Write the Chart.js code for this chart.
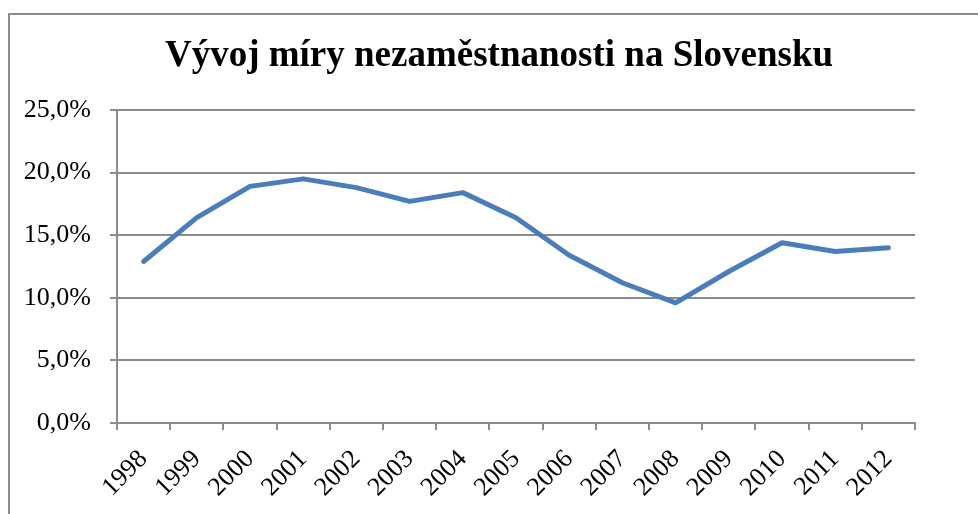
<!DOCTYPE html>
<html>
<head>
<meta charset="utf-8">
<script src="https://cdn.jsdelivr.net/npm/chart.js@4"></script>
<style>
  html, body { margin: 0; padding: 0; background: #fff; }
  #wrap { position: relative; width: 978px; height: 514px; overflow: hidden; }
  #frame { position: absolute; left: 8px; top: 13px; width: 1100px; height: 700px;
           border-left: 2px solid #8c8c8c; border-top: 2px solid #8c8c8c; box-sizing: border-box; }
  canvas { position: absolute; left: 0; top: 0; }
</style>
</head>
<body>
<div id="wrap">
  <div id="frame"></div>
  <canvas id="c" width="978" height="514"></canvas>
</div>
<script>
const titleText = 'Vývoj míry nezaměstnanosti na Slovensku';
const years = ['1998','1999','2000','2001','2002','2003','2004','2005','2006','2007','2008','2009','2010','2011','2012'];
const unemployment = [12.9, 16.4, 18.9, 19.5, 18.8, 17.7, 18.4, 16.4, 13.4, 11.2, 9.6, 12.1, 14.4, 13.7, 14.0];
const yMin = 0, yMax = 25, yStep = 5;

const gridColor = '#8c8c8c';

const titlePlugin = {
  id: 'centeredTitle',
  afterDraw(chart) {
    const ctx = chart.ctx;
    ctx.save();
    ctx.font = 'bold 37px "Liberation Serif"';
    ctx.fillStyle = '#000';
    ctx.textBaseline = 'alphabetic';
    ctx.textAlign = 'center';
    ctx.fillText(titleText, 499, 66);
    ctx.restore();
  }
};

new Chart(document.getElementById('c'), {
  type: 'line',
  data: {
    labels: years,
    datasets: [{
      data: unemployment,
      borderColor: '#4a7ebb',
      borderWidth: 5,
      borderCapStyle: 'round',
      borderJoinStyle: 'round',
      pointRadius: 0,
      tension: 0,
      fill: false
    }]
  },
  plugins: [titlePlugin],
  options: {
    responsive: false,
    animation: false,
    layout: { padding: { left: 0, right: 63, top: 110, bottom: 0 } },
    plugins: {
      legend: { display: false },
      tooltip: { enabled: false },
      title: { display: false }
    },
    scales: {
      x: {
        offset: true,
        grid: { display: true, drawOnChartArea: false, drawTicks: true, tickLength: 7, offset: true, color: gridColor, lineWidth: 2 },
        border: { display: true, color: gridColor, width: 2 },
        ticks: {
          color: '#000',
          font: { family: 'Liberation Serif', size: 26 },
          minRotation: 45, maxRotation: 45, autoSkip: false, padding: 14
        },
        afterFit: (s) => { s.height = 91; }
      },
      y: {
        min: yMin, max: yMax,
        ticks: {
          stepSize: yStep,
          color: '#000',
          font: { family: 'Liberation Serif', size: 26 },
          padding: 19,
          callback: (v) => v.toFixed(1).replace('.', ',') + '%'
        },
        grid: { color: gridColor, lineWidth: 2, tickLength: 7 },
        border: { display: true, color: gridColor, width: 2 },
        afterFit: (s) => { s.width = 117; }
      }
    }
  }
});
</script>
</body>
</html>
